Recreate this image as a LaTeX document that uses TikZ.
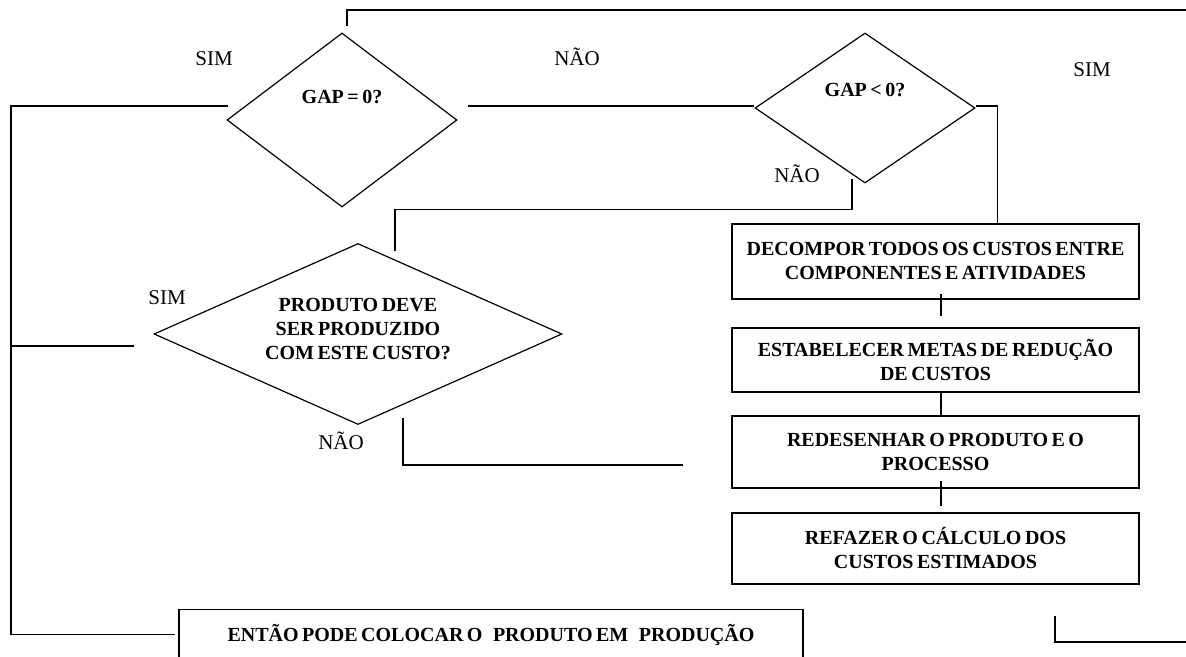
\documentclass[tikz,border=0pt]{standalone}
\usepackage{fontspec}
\setmainfont{Liberation Serif}[WordSpace=0.7]
\usetikzlibrary{shapes.geometric}

\begin{document}
\begin{tikzpicture}[x=0.5pt, y=-0.5pt, line width=0.6pt,
    decision/.style={diamond, draw, inner sep=0pt},
    stepbox/.style={rectangle, draw, minimum width=203.5pt, align=center, font=\bfseries, inner sep=0pt},
    answer/.style={anchor=base, font=\fontsize{10.5}{12}\selectfont}]
    \useasboundingbox (0,0) rectangle (1186,657);
    \clip (0,0) rectangle (1186,657);

    % Decisions
    \node[decision, minimum width=115pt, minimum height=87pt,
          label={[yshift=11.5pt, font=\bfseries]center:{GAP = 0?}}] (gapzero) at (342,120) {};
    \node[decision, minimum width=110pt, minimum height=75pt,
          label={[yshift=9pt, font=\bfseries]center:{GAP < 0?}}] (gapneg) at (865,108) {};
    \node[decision, minimum width=204pt, minimum height=90.5pt,
          label={[yshift=2.5pt, font=\bfseries, align=center]center:{PRODUTO DEVE\\SER PRODUZIDO\\COM ESTE CUSTO?}}] (produto) at (358,334) {};

    % Steps
    \node[stepbox, minimum height=37.5pt] (decompor) at (935.5,261.5) {DECOMPOR TODOS OS CUSTOS ENTRE\\COMPONENTES E ATIVIDADES};
    \node[stepbox, minimum height=32pt] (estabelecer) at (935.5,360) {ESTABELECER METAS DE REDUÇÃO\\DE CUSTOS};
    \node[stepbox, minimum height=36pt] (redesenhar) at (935.5,452) {REDESENHAR O PRODUTO E O\\PROCESSO};
    \node[stepbox, minimum height=35.5pt] (refazer) at (935.5,548.5) {REFAZER O CÁLCULO DOS\\CUSTOS ESTIMADOS};
    \node[stepbox, minimum width=312pt, minimum height=25pt, anchor=north] (producao) at (491,609) {ENTÃO PODE COLOCAR O\ \ \ PRODUTO EM\ \ \ PRODUÇÃO};

    % Answers
    \node[answer] (simA) at (214,66) {SIM};
    \node[answer] (naoA) at (577,66) {NÃO};
    \node[answer] (simB) at (1092,77) {SIM};
    \node[answer] (naoB) at (797,183) {NÃO};
    \node[answer] (simC) at (167,305) {SIM};
    \node[answer] (naoC) at (341,449) {NÃO};

    % Loose ends
    \coordinate (topR) at (1190,10);
    \coordinate (botR) at (1190,642);
    \coordinate (rail) at (11,106);
    \coordinate (simC0) at ([shift={(-19,12)}]produto.west);

    % Connections
    \draw ([shift={(2,-14)}]gapzero.west) -- (rail) |- ([xshift=-1.5pt]producao.west);
    \draw ([shift={(10,-14)}]gapzero.east) -- ([yshift=1pt]gapneg.west);
    \draw ([shift={(5,-6)}]gapzero.north) |- (topR);
    \draw ([yshift=1pt]gapneg.east) -| ([xshift=31pt]decompor.north);
    \draw ([shift={(-13,-5)}]gapneg.south) -- ++(0,31) -| ([shift={(37,8)}]produto.north);
    \draw ([shift={(45,-7)}]produto.south) |- ([shift={(-48,13)}]redesenhar.west);
    \draw (simC0) -- (simC0 -| rail);
    \draw ([shift={(5.5,-6)}]decompor.south) -- ([shift={(5.5,-11)}]estabelecer.north);
    \draw ([xshift=2.75pt]estabelecer.south) -- ([xshift=2.75pt]redesenhar.north);
    \draw ([shift={(5.5,-8)}]redesenhar.south) -- ([shift={(5.5,-6)}]refazer.north);
    \draw ([shift={(119.5,31)}]refazer.south) |- (botR);
\end{tikzpicture}
\end{document}
